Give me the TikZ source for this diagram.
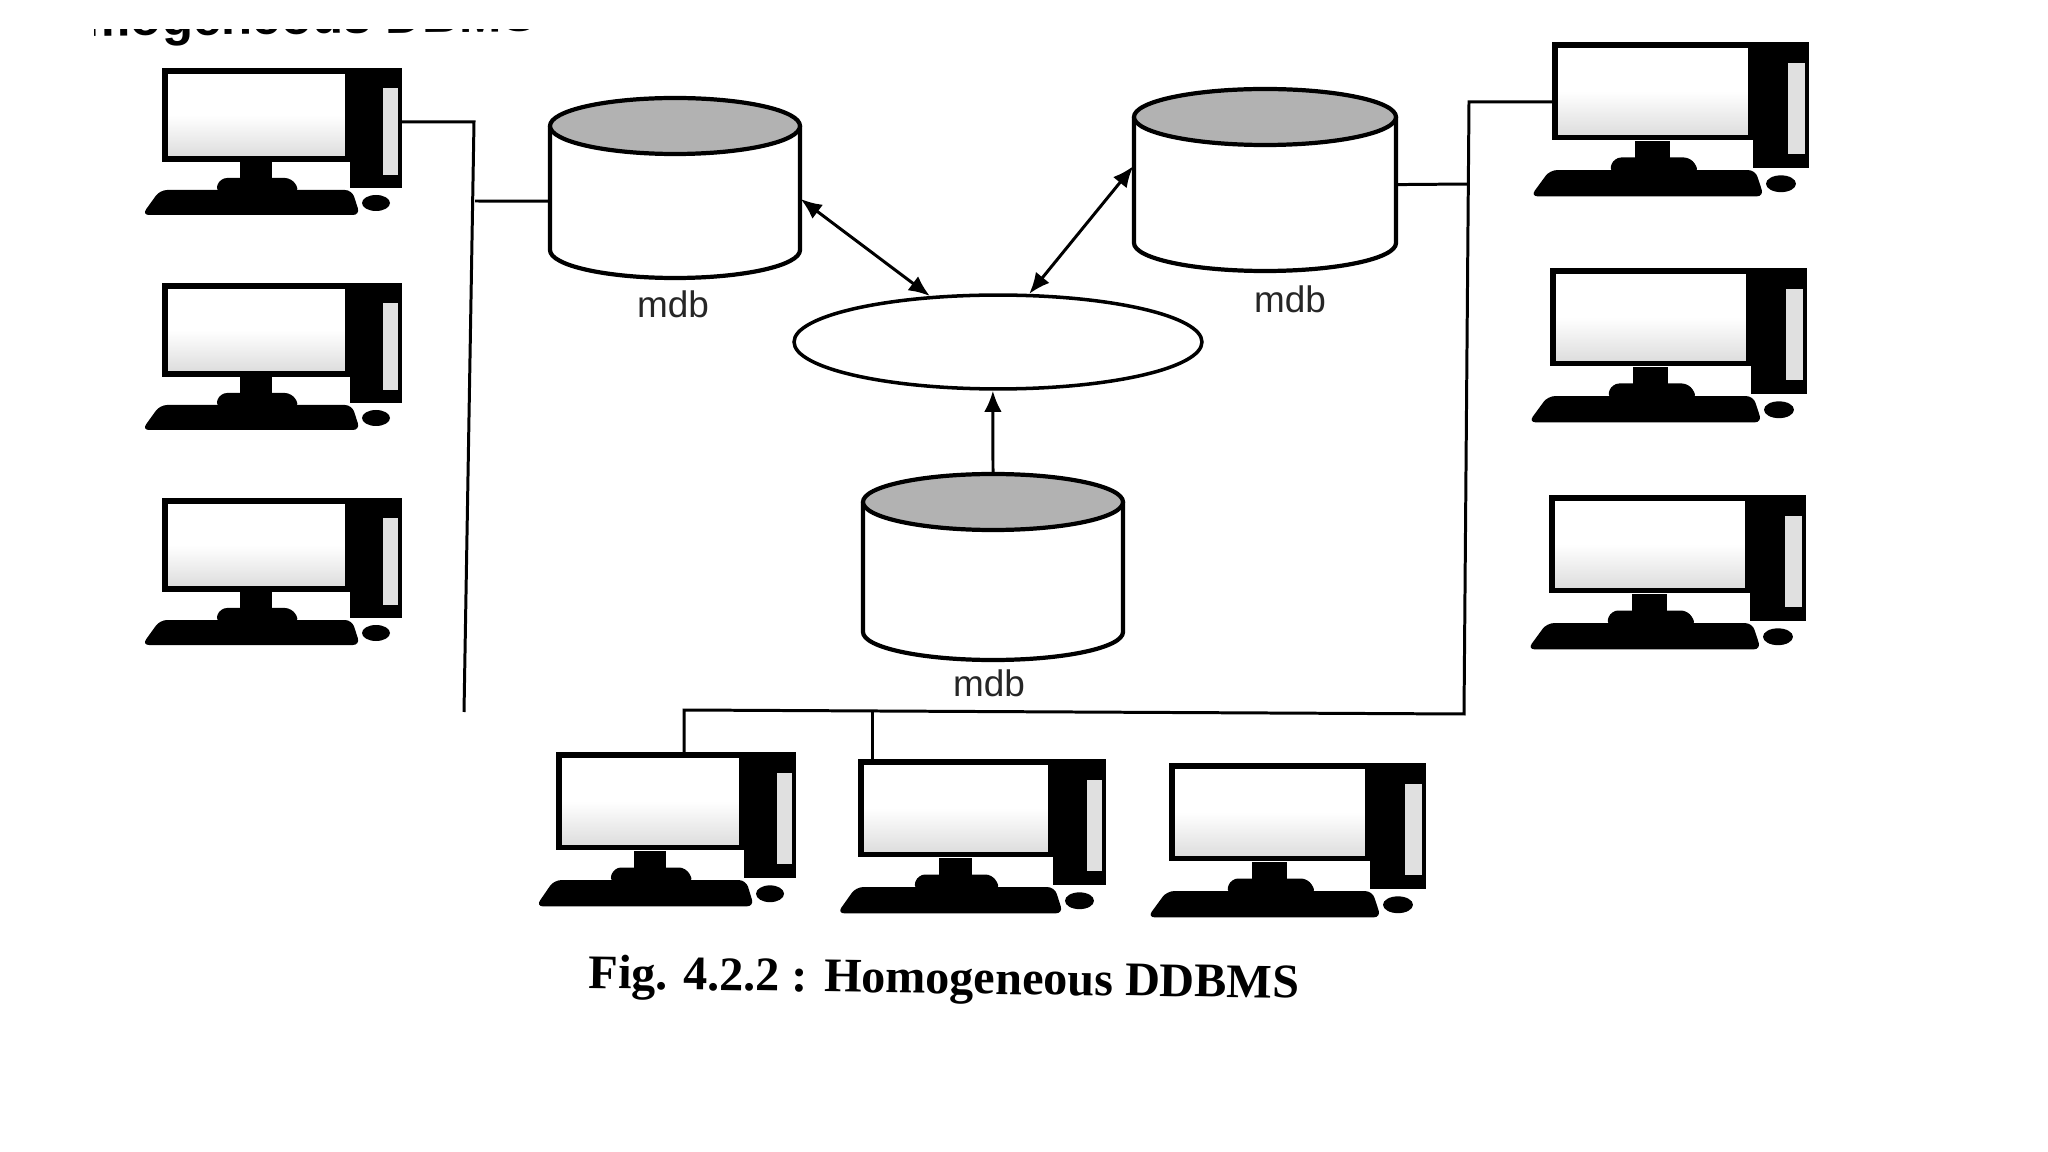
\documentclass[tikz,border=0pt]{standalone}
\usepackage{fontspec}
\setmainfont{Liberation Serif}
\newfontfamily\labelfont{Liberation Sans}
\usetikzlibrary{shapes.geometric,arrows.meta}
\tikzset{
  cable/.style={line width=0.85pt},
  link/.style={line width=0.85pt,{Latex[length=6pt,width=5pt]}-{Latex[length=6pt,width=5pt]}},
  mdblabel/.style={font=\labelfont\fontsize{10.5}{12}\selectfont,text=black!85},
  computer/.pic={
    % monitor
    \draw[line width=1.6pt,top color=white,bottom color=black!14,middle color=white] (3,-3) rectangle (186,-91);
    % tower
    \fill[black] (188,0) rectangle (240,-120);
    \fill[black!12] (221,-20) rectangle (236,-107);
    % stand and base
    \fill[black] (78,-94) rectangle (110,-112);
    \fill[black,rounded corners=2pt] (53,-124) -- (58,-110) -- (130,-110) -- (138,-124) -- cycle;
    % keyboard
    \fill[black,rounded corners=2pt] (-20,-147) -- (-2,-122) -- (190,-122) -- (198,-147) -- cycle;
    % mouse
    \fill[black] (214,-135) ellipse (14 and 8);
    \coordinate (-top) at (94,0);
    \coordinate (-back) at (240,-54);
    \coordinate (-side) at (0,-60);
  },
  % drum: half width, end radius, half height
  pics/dbdrum/.style n args={3}{code={
    \node[minimum width=2*#1*0.01cm,minimum height=2*#3*0.01cm,inner sep=0pt] (-body) at (0,0) {};
    \draw[line width=1.2pt,fill=white] (-#1,#3-#2) -- (-#1,#2-#3) arc (180:360:#1 and #2) -- (#1,#3-#2);
    \draw[line width=1.2pt,fill=black!30] (0,#3-#2) ellipse (#1 and #2);
  }}
}
\begin{document}
\begin{tikzpicture}[x=0.01cm,y=-0.01cm]
  \useasboundingbox (0,0) rectangle (2048,1152);
  % Clipped heading at the top edge
  \begin{scope}
    \clip (94,30) rectangle (2048,60);
    \node[font=\labelfont\bfseries\fontsize{14.5}{18}\selectfont,anchor=base west,inner sep=0pt,rotate=0.6] (heading) at (17,37) {Homogeneous DBMS};
  \end{scope}
  % Left computers
  \pic[yscale=-1] (pca) at (162,68) {computer};
  \pic[yscale=-1] (pcb) at (162,283) {computer};
  \pic[yscale=-1] (pcc) at (162,498) {computer};
  % Right computers
  \pic[yscale=-1.05,xscale=1.07] (pcd) at (1552,42) {computer};
  \pic[yscale=-1.05,xscale=1.07] (pce) at (1550,268) {computer};
  \pic[yscale=-1.05,xscale=1.07] (pcf) at (1549,495) {computer};
  % Bottom computers
  \pic[yscale=-1.05] (pcg) at (556,752) {computer};
  \pic[yscale=-1.05,xscale=1.035] (pch) at (858,759) {computer};
  \pic[yscale=-1.05,xscale=1.07] (pci) at (1169,763) {computer};
  % Databases and the central ellipse
  \pic[yscale=-1] (dba) at (675,188) {dbdrum={125}{28}{90}};
  \pic[yscale=-1] (dbb) at (1265,180) {dbdrum={131}{28}{91}};
  \pic[yscale=-1] (dbc) at (993,567) {dbdrum={130}{28}{93}};
  \node[ellipse,draw,line width=1pt,minimum width=116pt,minimum height=26.7pt,inner sep=0pt] (hub) at (998,342) {};
  % Labels
  \node[mdblabel] (mdba) at (673,304) {mdb};
  \node[mdblabel] (mdbb) at (1290,299) {mdb};
  \node[mdblabel] (mdbc) at (989,683) {mdb};
  % Arrows
  \draw[link] (dba-body.-5) -- (hub.146);
  \draw[link] (dbb-body.174) -- (hub.57);
  \draw[line width=0.85pt,-{Latex[length=6pt,width=5pt]}] (dbc-body.north) -- (hub.-96);
  % Left cable
  \coordinate (lefttop) at (474,122);
  \coordinate (leftjoin) at (475,201);
  \coordinate (leftend) at (464,712);
  \draw[cable] (pca-back) -- (lefttop) -- (leftend);
  \draw[cable] (leftjoin) -- (dba-body.186);
  % Right cable
  \coordinate (righttop) at (1469,102);
  \coordinate (rightjoin) at (1468,184);
  \coordinate (rightlow) at (1464,714);
  \coordinate (lowstart) at (684,710);
  \coordinate (lowjoin) at (872,712);
  \draw[cable] (pcd-side |- righttop) -- (righttop) -- (rightlow) -- (lowstart) -- (lowstart |- pcg-top);
  \draw[cable] (dbb-body.-2) -- (rightjoin);
  \draw[cable] (lowjoin) -- (lowjoin |- pch-top);
  % Caption
  \node[font=\bfseries\fontsize{13.7}{17}\selectfont,rotate=-0.8,inner sep=0pt] (caption) at (944,982) {Fig. 4.2.2 : Homogeneous DDBMS};
\end{tikzpicture}
\end{document}
